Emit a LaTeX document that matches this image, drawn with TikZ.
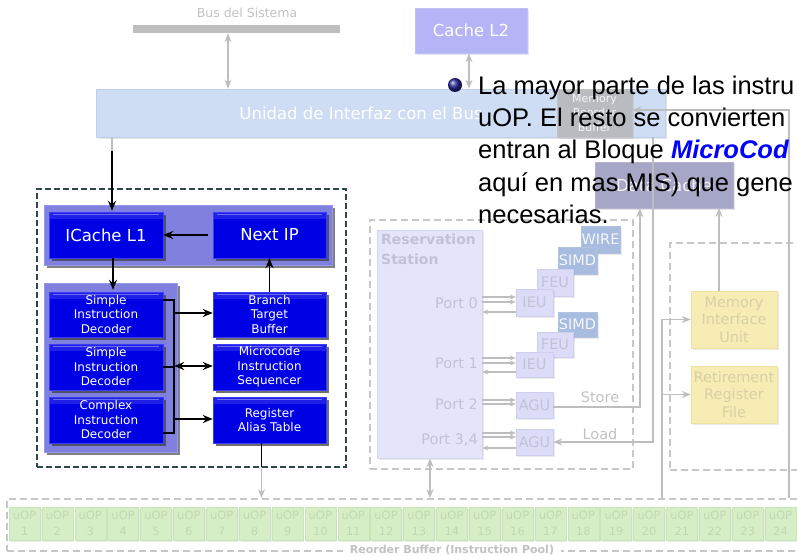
\documentclass[tikz,border=0pt]{standalone}
\usepackage{fontspec}
\newfontfamily\dv{DejaVu Sans}
\newfontfamily\lib{Liberation Sans}
\usetikzlibrary{shadows,arrows.meta,calc}
\newcommand\fsz[2]{\fontsize{#1}{#2}\selectfont}
\definecolor{bluec}{RGB}{0,0,228}
\definecolor{bluebd}{RGB}{60,60,255}
\definecolor{panelc}{RGB}{128,128,222}
\definecolor{panelbd}{RGB}{150,150,235}
\definecolor{grayc}{RGB}{190,190,190}
\definecolor{dashc}{RGB}{200,200,200}
\definecolor{fedashc}{RGB}{47,72,72}
\definecolor{unidadc}{RGB}{206,221,243}
\definecolor{unidadbd}{RGB}{190,208,240}
\definecolor{cachel2c}{RGB}{180,180,246}
\definecolor{mobc}{RGB}{184,186,190}
\definecolor{dcachec}{RGB}{166,166,198}
\definecolor{rsc}{RGB}{228,228,251}
\definecolor{rsbd}{RGB}{214,214,244}
\definecolor{unitc}{RGB}{220,220,248}
\definecolor{unitbd}{RGB}{206,206,240}
\definecolor{simdc}{RGB}{168,188,224}
\definecolor{unittxt}{RGB}{194,194,214}
\definecolor{yellc}{RGB}{246,236,180}
\definecolor{yellbd}{RGB}{238,226,160}
\definecolor{yelltxt}{RGB}{216,208,166}
\definecolor{uopc}{RGB}{214,238,198}
\definecolor{uopbd}{RGB}{200,228,184}
\definecolor{uoptxt}{RGB}{194,216,180}
\definecolor{gtxt}{RGB}{194,194,194}
\definecolor{bulletc}{RGB}{40,40,150}
\begin{document}
\begin{tikzpicture}[x=1pt,y=-1pt,
  blk/.style={draw=bluebd, fill=bluec, text=white, align=center, inner sep=0pt,
    font=\dv\fsz{12}{14.5},
    drop shadow={shadow xshift=2.5pt,shadow yshift=-2.5pt,opacity=.75,fill=black!75},
    path picture={\fill[white,opacity=.12] (path picture bounding box.north west) rectangle ([yshift=-7pt]path picture bounding box.north east);
      \draw[white,opacity=.35,line width=.6pt] ([xshift=4pt,yshift=-2.5pt]path picture bounding box.north west) -- ([xshift=-4pt,yshift=-2.5pt]path picture bounding box.north east);}},
  panel/.style={fill=panelc, draw=panelbd, inner sep=0pt,
    drop shadow={shadow xshift=3pt,shadow yshift=-3pt,opacity=.7,fill=black!70}},
  fedash/.style={draw=fedashc, line width=1.4pt, dash pattern=on 6pt off 3pt, inner sep=0pt},
  gdash/.style={draw=dashc, line width=1.7pt, dash pattern=on 7pt off 4pt, inner sep=0pt},
  lightbox/.style={inner sep=0pt, align=center, font=\dv\fsz{16.5}{19}, text=white,
    drop shadow={shadow xshift=2pt,shadow yshift=-2pt,opacity=.25,fill=black!40}},
  unit/.style={fill=unitc, draw=unitbd, text=unittxt, inner sep=0pt, font=\dv\fsz{14.5}{16},
    drop shadow={shadow xshift=1.5pt,shadow yshift=-1.5pt,opacity=.2,fill=black!40}},
  simd/.style={unit, fill=simdc, draw=simdc!90!white, text=white!88!simdc},
  yell/.style={fill=yellc, draw=yellbd, text=yelltxt, align=center, inner sep=0pt, font=\dv\fsz{14.5}{17.5},
    drop shadow={shadow xshift=2pt,shadow yshift=-2pt,opacity=.2,fill=black!40}},
  uop/.style={fill=uopc, draw=uopbd, text=uoptxt, align=center, inner sep=0pt, font=\dv\fsz{11.5}{16},
    minimum width=31pt, minimum height=33pt,
    drop shadow={shadow xshift=1.5pt,shadow yshift=-1.5pt,opacity=.2,fill=black!40}},
  gline/.style={draw=grayc, line width=1.8pt},
  gar/.style={gline, -{Stealth[length=9pt,width=7pt]}},
  gboth/.style={gline, {Stealth[length=9pt,width=7pt]}-{Stealth[length=9pt,width=7pt]}},
  gsm/.style={draw=grayc, line width=1.3pt, -{Stealth[length=6pt,width=5pt]}},
  bline/.style={draw=black, line width=1.6pt},
  bar/.style={bline, -{Stealth[length=10pt,width=8pt]}},
  bboth/.style={bline, {Stealth[length=10pt,width=8pt]}-{Stealth[length=10pt,width=8pt]}},
  ovl/.style={anchor=base west, inner sep=0pt, font=\lib\fsz{25.5}{32}, text=black}
]
\useasboundingbox (0,0) rectangle (797,556);
\clip (0,0) rectangle (797,556);

% ---------- top: bus, BIU, cache L2 ----------
\node[font=\dv\fsz{12.5}{14}, text=gtxt] (buslbl) at (247,13) {Bus del Sistema};
\node[fill=grayc, minimum width=207pt, minimum height=8pt, inner sep=0pt] (bus) at (236.5,29) {};
\node[lightbox, fill=unidadc, draw=unidadbd, minimum width=569pt, minimum height=48pt] (unidad) at (380.5,113) {};
\node[font=\dv\fsz{16.5}{19}, text=white, inner sep=0pt] (unidadlbl) at (361,113) {Unidad de Interfaz con el Bus};
\node[lightbox, fill=cachel2c, draw=cachel2c!85!white, minimum width=112pt, minimum height=45pt] (cl2) at (471,30.5) {Cache L2};
\node[lightbox, fill=mobc, fill opacity=.9, text opacity=1, draw=mobc!90!white, minimum width=75pt, minimum height=48pt, font=\dv\fsz{11}{14.5}, text=white!85!mobc] (mob) at (594.5,113) {Memory\\Reorder\\Buffer};
\node[lightbox, fill=dcachec, draw=dcachec!85!white, minimum width=138pt, minimum height=46pt, text=white!85!dcachec] (dcache) at (664,185) {Data Cache};

\draw[gboth] ($(bus.south)+(-8.5,0)$) coordinate (bs) -- (bs |- unidad.north);
\draw[gboth] ($(cl2.south)+(-2,0)$) coordinate (cs) -- (cs |- unidad.north);

% ---------- front end ----------
\node[fedash, minimum width=309pt, minimum height=278pt] (fe) at (191.5,328) {};
\node[panel, minimum width=288pt, minimum height=60pt] (toppanel) at (188,235) {};
\node[panel, minimum width=133pt, minimum height=169pt] (decpanel) at (110.5,367.5) {};
\node[blk, minimum width=114pt, minimum height=46pt, font=\dv\fsz{16.5}{19}] (icache) at (106,235) {ICache L1};
\node[blk, minimum width=113pt, minimum height=46pt, font=\dv\fsz{16.5}{19}] (nextip) at (269.5,235) {Next IP};
\node[blk, minimum width=114pt, minimum height=45pt] (sid1) at (106,314.5) {Simple\\Instruction\\Decoder};
\node[blk, minimum width=114pt, minimum height=46pt] (sid2) at (106,367) {Simple\\Instruction\\Decoder};
\node[blk, minimum width=114pt, minimum height=46pt] (cid) at (106,420) {Complex\\Instruction\\Decoder};
\node[blk, minimum width=113pt, minimum height=45pt] (btb) at (269.5,314.5) {Branch\\Target\\Buffer};
\node[blk, minimum width=113pt, minimum height=46pt] (mis) at (269.5,367) {Microcode\\Instruction\\Sequencer};
\node[blk, minimum width=113pt, minimum height=46pt] (rat) at (269.5,420) {Register\\Alias Table};

\coordinate (ua) at ($(icache.north)+(6,-1)$);
\draw[gline] (ua |- unidad.south) -- ++(0,14) coordinate (ub);
\draw[bar] (ub) -- (ua);
\draw[bar] ($(nextip.west)+(-5,0)$) -- (icache.east);
\draw[bar] ($(icache.south)+(7,0)$) -- ($(sid1.north)+(7,-2)$);
\coordinate (vb1) at ($(sid1.east)+(11,-14.5)$);
\coordinate (vb3) at ($(cid.east)+(11,13)$);
\draw[bline] ($(sid1.east)+(0,-14.5)$) -- (vb1) -- (vb3) -- ($(cid.east)+(0,13)$);
\draw[bline] (sid2.east) -- (vb1 |- sid2.east);
\draw[bar] ($(vb1 |- btb.west)+(0,-1.5)$) -- ($(btb.west)+(0,-1.5)$);
\draw[bboth] ($(vb1 |- mis.west)+(0,-1)$) -- ($(mis.west)+(0,-1)$);
\draw[bar] ($(vb1 |- rat.west)+(0,-1)$) -- ($(rat.west)+(0,-1)$);
\draw[bar] (btb.north) -- (nextip.south);
\draw[bline] ($(rat.south)+(-8,0)$) -- ++(0,24) coordinate (ratdn);

% ---------- reservation station ----------
\node[gdash, minimum width=263pt, minimum height=249pt] (rsdash) at (501.5,344.5) {};
\node[fill=rsc, draw=rsbd, minimum width=105pt, minimum height=228pt, inner sep=0pt,
  drop shadow={shadow xshift=2pt,shadow yshift=-2pt,opacity=.2,fill=black!40}] (rs) at (429.5,344) {};
\node[anchor=north west, align=left, font=\dv\bfseries\fsz{14}{20}, text=unittxt, inner sep=0pt] (rslbl) at (381,234) {Reservation\\Station};
\node[anchor=east, font=\dv\fsz{14.5}{16}, text=unittxt, inner sep=0pt] (p0) at (478,303) {Port 0};
\node[anchor=east, font=\dv\fsz{14.5}{16}, text=unittxt, inner sep=0pt] (p1) at (478,363) {Port 1};
\node[anchor=east, font=\dv\fsz{14.5}{16}, text=unittxt, inner sep=0pt] (p2) at (478,404) {Port 2};
\node[anchor=east, font=\dv\fsz{14.5}{16}, text=unittxt, inner sep=0pt] (p34) at (478,440) {Port 3,4};

\node[simd, minimum width=39pt, minimum height=27pt] (wire) at (600.5,239.5) {WIRE};
\node[simd, minimum width=39pt, minimum height=27pt] (simd0) at (577.5,260.5) {SIMD};
\node[unit, minimum width=36pt, minimum height=27pt] (feu0) at (555,282.5) {FEU};
\node[unit, minimum width=37pt, minimum height=27pt] (ieu0) at (534.5,302.5) {IEU};
\node[simd, minimum width=39pt, minimum height=25pt] (simd1) at (577.5,324.5) {SIMD};
\node[unit, minimum width=36pt, minimum height=25pt] (feu1) at (555,344.5) {FEU};
\node[unit, minimum width=37pt, minimum height=25pt] (ieu1) at (534.5,364.5) {IEU};
\node[unit, minimum width=37pt, minimum height=26pt] (agus) at (534.5,405) {AGU};
\node[unit, minimum width=37pt, minimum height=26pt] (agul) at (534.5,442) {AGU};

\draw[gsm] ($(rs.east |- ieu0.west)+(0,-5.5)$) -- ($(ieu0.west)+(0,-5.5)$);
\draw[gsm] ($(rs.east |- ieu0.west)+(0,-0.5)$) -- ($(ieu0.west)+(0,-0.5)$);
\draw[gsm] ($(ieu0.west)+(0,9.5)$) -- ($(rs.east |- ieu0.west)+(0,9.5)$);
\draw[gsm] ($(rs.east |- ieu1.west)+(0,-6.5)$) -- ($(ieu1.west)+(0,-6.5)$);
\draw[gsm] ($(rs.east |- ieu1.west)+(0,-1.5)$) -- ($(ieu1.west)+(0,-1.5)$);
\draw[gsm] ($(ieu1.west)+(0,7.5)$) -- ($(rs.east |- ieu1.west)+(0,7.5)$);
\draw[gsm] ($(rs.east |- agus.west)+(0,-5)$) -- ($(agus.west)+(0,-5)$);
\draw[gsm] ($(rs.east |- agus.west)+(0,-1)$) -- ($(agus.west)+(0,-1)$);
\draw[gsm] ($(rs.east |- agul.west)+(0,-9)$) -- ($(agul.west)+(0,-9)$);
\draw[gsm] ($(rs.east |- agul.west)+(0,-5)$) -- ($(agul.west)+(0,-5)$);
\draw[gsm] ($(agul.west)+(0,6)$) -- ($(rs.east |- agul.west)+(0,6)$);

% store / load
\draw[gar] ($(agus.east)+(0,2)$) -| ($(dcache.south west)+(45,0)$);
\node[font=\dv\fsz{14.5}{16}, text=gtxt, inner sep=0pt] (storelbl) at (600,397) {Store};
\draw[gar] ($(mob.south east)+(21,0)$) |- (agul.east);
\node[font=\dv\fsz{14.5}{16}, text=gtxt, inner sep=0pt] (loadlbl) at (600,434) {Load};

% ---------- right block ----------
\node[gdash, minimum width=135pt, minimum height=227pt] (rdash) at (737.5,356.5) {};
\node[yell, minimum width=86pt, minimum height=57pt] (miu) at (734,319.5) {Memory\\Interface\\Unit};
\node[yell, minimum width=86pt, minimum height=57pt] (rrf) at (734,394.5) {Retirement\\Register\\File};
\draw[gar] ($(miu.north)+(-15,0)$) -- ++(0,-83);

% ---------- reorder buffer ----------
\node[gdash, minimum width=798pt, minimum height=52pt] (rob) at (406,525) {};
\foreach \i in {1,...,24} {
  \pgfmathsetmacro\cx{24.5+(\i-1)*32.87}
  \node[uop] (u\i) at (\cx,523.5) {uOP\\\i};
}
\node[fill=white, inner xsep=7pt, inner ysep=1pt, font=\dv\bfseries\fsz{11}{13}, text=gtxt] (roblbl) at (452,550) {Reorder Buffer (Instruction Pool)};

\coordinate (robM) at ($(rob.north west)+(656,0)$);
\coordinate (robR) at ($(rob.north west)+(783,0)$);
\draw[gar] (robM) |- (miu.west);
\draw[gar] (robM |- rrf.west) -- (rrf.west);
\draw[gar] (robR) |- ($(mob.east)+(0,-3)$);
\draw[gar] (ratdn) -- (ratdn |- rob.north);
\draw[gboth] ($(rs.south)+(0.5,0)$) coordinate (rsb) -- (rsb |- rob.north);

% ---------- overlay slide text ----------
\node[circle, shade, ball color=bulletc, minimum size=14pt, inner sep=0pt] (bullet) at (455,85) {};
\node[ovl] (t1) at (478,95) {La mayor parte de las instru};
\node[ovl] (t2) at (478,127) {uOP. El resto se convierten};
\node[ovl] (t3) at (478,159) {entran al Bloque \textcolor{blue}{\bfseries\itshape MicroCod}};
\node[ovl] (t4) at (478,191) {aquí en mas MIS) que gene};
\node[ovl] (t5) at (478,223) {necesarias.};
\end{tikzpicture}
\end{document}
